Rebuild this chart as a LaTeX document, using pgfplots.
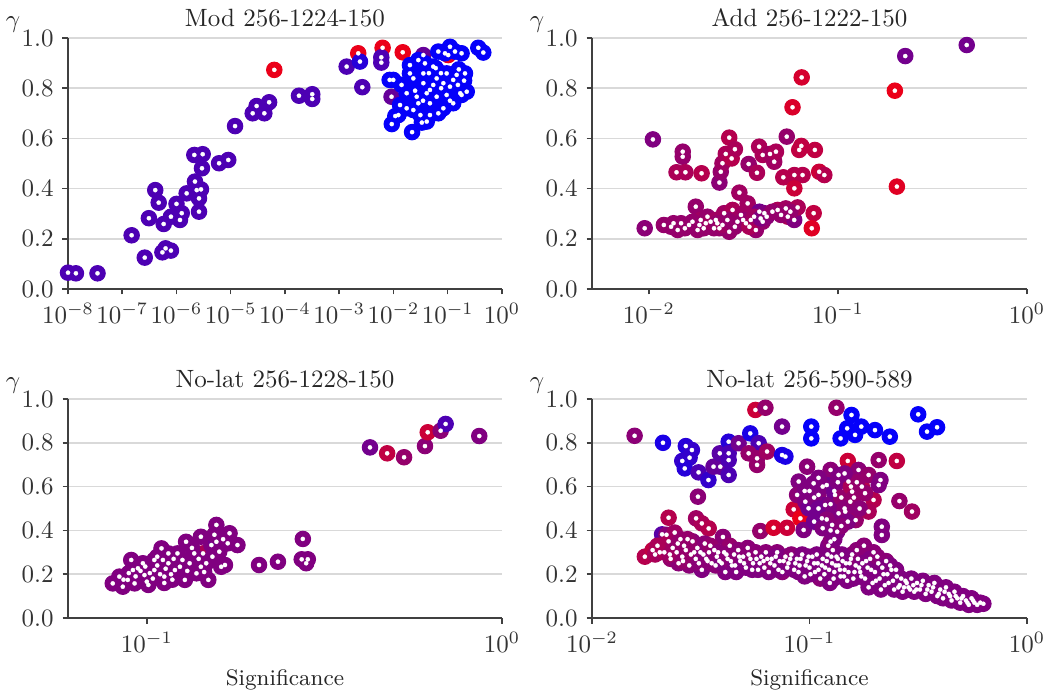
\documentclass[border=0pt]{standalone}
\usepackage{pgfplots}
\usepackage{pgfplotstable}
\pgfplotsset{compat=1.18}
\pgfplotstableread{
x y c
1.0e-8 0.065 0.3
1.4e-8 0.0625 0.3
3.5e-8 0.0625 0.3
1.49e-7 0.214 0.3
2.6e-7 0.125 0.3
3.1e-7 0.282 0.3
4.06e-7 0.394 0.3
4.7e-7 0.344 0.3
5.8e-7 0.259 0.3
5.5e-7 0.146 0.3
6.3e-7 0.162 0.3
7.9e-7 0.153 0.3
7.9e-7 0.288 0.3
1.0e-6 0.339 0.3
1.16e-6 0.275 0.3
1.25e-6 0.302 0.3
1.54e-6 0.381 0.3
2.13e-6 0.534 0.3
2.19e-6 0.428 0.3
2.36e-6 0.394 0.3
2.6e-6 0.361 0.3
2.6e-6 0.308 0.3
2.83e-6 0.397 0.3
3.04e-6 0.537 0.3
2.95e-6 0.481 0.3
6.1e-6 0.501 0.3
9.0e-6 0.514 0.3
1.2e-5 0.649 0.3
2.54e-5 0.700 0.3
3.0e-5 0.729 0.3
4.16e-5 0.700 0.3
5.1e-5 0.744 0.3
6.35e-5 0.873 1
1.81e-4 0.770 0.3
3.18e-4 0.776 0.3
3.18e-4 0.757 0.3
1.37e-3 0.886 0.3
2.24e-3 0.939 1
2.41e-3 0.906 0.15
2.66e-3 0.804 0.3
6.3e-3 0.961 1
5.96e-3 0.923 0.3
5.96e-3 0.902 0.3
1.48e-2 0.943 1
0.102 0.932 1
9.2e-3 0.766 0.4
0.0355 0.932 0.4
0.067 0.946 0.02
0.11 0.965 0.02
0.136 0.946 0.02
0.366 0.961 0.02
0.452 0.942 0.02
0.0093 0.657 0.02
0.022 0.625 0.02
0.0123 0.693 0.02
0.0099 0.833 0.02
0.0085 0.833 0.02
0.0201 0.892 0.02
0.0287 0.912 0.02
0.038 0.899 0.02
0.054 0.886 0.02
0.089 0.939 0.02
0.18 0.939 0.02
0.0141 0.813 0.02
0.0232 0.839 0.02
0.0355 0.859 0.02
0.0625 0.839 0.02
0.0955 0.859 0.02
0.146 0.853 0.02
0.208 0.859 0.02
0.224 0.786 0.02
0.18 0.773 0.02
0.126 0.74 0.02
0.083 0.72 0.02
0.047 0.693 0.02
0.041 0.667 0.02
0.0175 0.72 0.02
0.0132 0.733 0.02
0.0175 0.78 0.02
0.0268 0.766 0.02
0.041 0.78 0.02
0.0625 0.766 0.02
0.0955 0.773 0.02
0.0232 0.713 0.02
0.0313 0.693 0.02
0.0355 0.82 0.02
0.054 0.813 0.02
0.0755 0.80 0.02
0.11 0.806 0.02
0.154 0.813 0.02
0.0201 0.859 0.02
0.083 0.82 0.02
0.0287 0.74 0.02
0.047 0.74 0.02
0.126 0.833 0.02
0.047 0.793 0.02
0.0108 0.689 0.02
0.0333 0.663 0.02
0.067 0.70 0.02
0.17 0.78 0.02
0.06 0.88 0.02
0.16 0.875 0.02
0.075 0.86 0.02
0.025 0.79 0.02
0.035 0.75 0.02
0.11 0.75 0.02
0.045 0.86 0.02
0.20 0.83 0.02
}\tl
\pgfplotstableread{
x y c
0.0095 0.242 0.55
0.012 0.255 0.6
0.0131 0.248 0.6
0.0142 0.235 0.6
0.0148 0.262 0.6
0.0163 0.255 0.6
0.0177 0.328 0.6
0.0181 0.235 0.6
0.0188 0.275 0.65
0.02 0.262 0.65
0.0204 0.288 0.6
0.0221 0.242 0.6
0.0226 0.275 0.65
0.0236 0.242 0.6
0.025 0.302 0.65
0.0266 0.228 0.6
0.0277 0.315 0.7
0.0294 0.268 0.65
0.0301 0.384 0.65
0.0307 0.295 0.65
0.0326 0.262 0.8
0.0333 0.341 0.65
0.0346 0.275 0.65
0.0368 0.235 0.6
0.0384 0.308 0.45
0.0408 0.302 0.5
0.04 0.268 0.6
0.048 0.315 0.7
0.053 0.321 0.65
0.0543 0.288 0.7
0.0587 0.275 0.5
0.0612 0.325 0.7
0.0744 0.302 0.8
0.0727 0.242 0.95
0.0135 0.262 0.6
0.0155 0.242 0.6
0.0170 0.268 0.6
0.0185 0.255 0.6
0.0195 0.242 0.6
0.0212 0.268 0.65
0.0230 0.262 0.6
0.0245 0.255 0.65
0.0260 0.275 0.6
0.0285 0.248 0.6
0.0315 0.275 0.6
0.0340 0.248 0.7
0.0360 0.288 0.65
0.0390 0.281 0.5
0.0420 0.288 0.55
0.0450 0.308 0.6
0.0500 0.295 0.6
0.0560 0.308 0.6
0.0105 0.596 0.5
0.0266 0.603 0.75
0.0536 0.607 0.6
0.0151 0.547 0.6
0.0151 0.527 0.6
0.014 0.465 0.7
0.0156 0.465 0.7
0.019 0.461 0.75
0.0236 0.424 0.55
0.024 0.467 0.6
0.0245 0.501 0.65
0.0255 0.538 0.7
0.0274 0.52 0.75
0.0285 0.557 0.7
0.0337 0.498 0.6
0.0373 0.463 0.7
0.0383 0.567 0.7
0.04 0.534 0.7
0.0437 0.538 0.65
0.046 0.507 0.65
0.047 0.547 0.7
0.0514 0.445 0.75
0.0588 0.454 0.75
0.065 0.454 0.75
0.0588 0.401 0.85
0.0624 0.554 0.8
0.064 0.57 0.8
0.0755 0.554 0.8
0.0796 0.467 0.85
0.0847 0.454 0.75
0.0643 0.843 0.9
0.0575 0.724 0.92
0.2 0.79 1
0.205 0.408 0.95
0.227 0.928 0.45
0.48 0.972 0.45
}\tr
\pgfplotstableread{
x y c
0.0802 0.158 0.5
0.0837 0.189 0.5
0.0856 0.143 0.5
0.0904 0.265 0.5
0.0914 0.219 0.5
0.0924 0.158 0.5
0.0944 0.227 0.5
0.0884 0.174 0.5
0.0975 0.25 0.5
0.0985 0.196 0.5
0.100 0.166 0.5
0.101 0.151 0.5
0.105 0.219 0.5
0.105 0.265 0.5
0.107 0.28 0.5
0.110 0.318 0.5
0.112 0.189 0.5
0.115 0.25 0.5
0.115 0.295 0.5
0.120 0.219 0.5
0.122 0.295 0.5
0.124 0.234 0.5
0.128 0.174 0.5
0.129 0.348 0.5
0.132 0.25 0.5
0.136 0.295 0.5
0.138 0.204 0.5
0.142 0.371 0.5
0.142 0.234 0.5
0.144 0.295 0.7
0.147 0.25 0.5
0.149 0.174 0.5
0.152 0.333 0.5
0.157 0.425 0.5
0.157 0.348 0.45
0.160 0.303 0.5
0.162 0.234 0.5
0.166 0.242 0.5
0.169 0.341 0.5
0.171 0.387 0.5
0.180 0.333 0.5
0.0860 0.175 0.5
0.0890 0.205 0.5
0.0930 0.190 0.5
0.0960 0.215 0.5
0.0990 0.235 0.5
0.1020 0.205 0.5
0.1040 0.180 0.5
0.1070 0.240 0.5
0.1090 0.200 0.5
0.1110 0.265 0.5
0.1130 0.225 0.5
0.1170 0.200 0.5
0.1190 0.270 0.5
0.1260 0.265 0.5
0.1300 0.215 0.5
0.1340 0.320 0.5
0.1400 0.270 0.5
0.1450 0.210 0.5
0.1530 0.280 0.5
0.1550 0.380 0.5
0.1640 0.360 0.5
0.1120 0.160 0.5
0.1180 0.175 0.5
0.207 0.242 0.5
0.234 0.257 0.5
0.275 0.361 0.5
0.273 0.268 0.5
0.284 0.268 0.5
0.281 0.25 0.5
0.425 0.779 0.45
0.475 0.752 0.8
0.53 0.734 0.6
0.607 0.785 0.55
0.618 0.848 0.85
0.672 0.855 0.55
0.694 0.886 0.3
0.863 0.831 0.5
}\bl
\pgfplotstableread{
x y c
0.0157 0.832 0.55
0.0212 0.80 0.1
0.027 0.785 0.15
0.0288 0.767 0.2
0.026 0.717 0.2
0.0281 0.732 0.2
0.0267 0.683 0.15
0.0309 0.665 0.3
0.0343 0.630 0.2
0.0307 0.554 0.55
0.0362 0.691 0.4
0.0389 0.691 0.4
0.0387 0.752 0.35
0.0425 0.805 0.15
0.0425 0.752 0.3
0.0425 0.721 0.3
0.0425 0.653 0.3
0.0472 0.798 0.45
0.0534 0.843 0.1
0.0584 0.798 0.3
0.0525 0.752 0.6
0.0574 0.729 0.6
0.0574 0.699 0.6
0.0638 0.760 0.65
0.0564 0.950 0.85
0.0627 0.960 0.6
0.0748 0.874 0.45
0.0748 0.744 0.1
0.0775 0.737 0.1
0.1019 0.874 0.02
0.1019 0.820 0.02
0.133 0.960 0.6
0.156 0.927 0.02
0.149 0.866 0.02
0.139 0.820 0.02
0.162 0.836 0.02
0.173 0.874 0.02
0.2 0.858 0.02
0.234 0.828 0.02
0.316 0.93 0.02
0.347 0.851 0.02
0.386 0.871 0.02
0.150 0.717 0.85
0.208 0.721 0.6
0.252 0.717 0.8
0.259 0.534 0.6
0.296 0.486 0.65
0.0225 0.458 0.75
0.021 0.382 0.35
0.0301 0.455 0.65
0.032 0.432 0.7
0.0344 0.409 0.75
0.0594 0.397 0.6
0.0684 0.412 0.9
0.0788 0.412 0.85
0.0175 0.28 0.75
0.0190 0.31 0.8
0.0195 0.29 0.7
0.0205 0.30 0.65
0.0215 0.30 0.7
0.0220 0.38 0.55
0.0225 0.35 0.7
0.0230 0.27 0.6
0.0235 0.32 0.65
0.0240 0.39 0.65
0.0245 0.30 0.6
0.0250 0.25 0.55
0.0255 0.36 0.6
0.0260 0.28 0.6
0.0265 0.33 0.55
0.0270 0.31 0.6
0.0280 0.24 0.55
0.0285 0.29 0.6
0.0290 0.35 0.55
0.0300 0.27 0.6
0.0305 0.32 0.6
0.0315 0.30 0.55
0.0320 0.22 0.5
0.0330 0.34 0.55
0.0335 0.27 0.6
0.0345 0.30 0.55
0.0355 0.25 0.55
0.0365 0.31 0.6
0.0375 0.28 0.55
0.0385 0.26 0.5
0.0400 0.37 0.55
0.0405 0.30 0.55
0.0410 0.21 0.5
0.0420 0.27 0.55
0.0430 0.33 0.6
0.0440 0.24 0.5
0.0450 0.29 0.55
0.0460 0.21 0.5
0.0470 0.31 0.55
0.0480 0.26 0.5
0.0495 0.28 0.55
0.0510 0.23 0.5
0.0520 0.32 0.55
0.0535 0.27 0.5
0.0550 0.25 0.55
0.0565 0.30 0.55
0.0580 0.22 0.5
0.0600 0.28 0.55
0.0615 0.26 0.5
0.0630 0.30 0.55
0.0650 0.21 0.5
0.0670 0.27 0.55
0.0690 0.24 0.5
0.0710 0.30 0.55
0.0730 0.26 0.5
0.0750 0.21 0.55
0.0775 0.28 0.5
0.0800 0.25 0.5
0.0825 0.29 0.55
0.0850 0.22 0.5
0.0875 0.27 0.5
0.0900 0.24 0.55
0.0925 0.29 0.5
0.0950 0.19 0.5
0.0975 0.26 0.5
0.1000 0.23 0.5
0.1030 0.28 0.55
0.1060 0.21 0.5
0.1090 0.25 0.5
0.1120 0.18 0.55
0.1150 0.27 0.5
0.1180 0.23 0.5
0.1210 0.29 0.5
0.1240 0.16 0.5
0.1270 0.25 0.5
0.1300 0.21 0.5
0.1330 0.28 0.55
0.1360 0.24 0.5
0.1390 0.19 0.5
0.1420 0.26 0.5
0.1450 0.22 0.55
0.1490 0.17 0.5
0.1530 0.25 0.5
0.1570 0.29 0.55
0.1610 0.21 0.5
0.1650 0.31 0.55
0.1690 0.23 0.5
0.1730 0.19 0.5
0.1780 0.33 0.55
0.1820 0.26 0.5
0.1870 0.14 0.5
0.1920 0.22 0.5
0.1970 0.30 0.55
0.2020 0.17 0.5
0.2070 0.25 0.5
0.2130 0.13 0.5
0.2190 0.20 0.5
0.2250 0.26 0.55
0.2310 0.16 0.5
0.2380 0.22 0.5
0.2450 0.13 0.5
0.2520 0.19 0.5
0.2600 0.15 0.5
0.2680 0.12 0.5
0.2760 0.17 0.5
0.2850 0.14 0.5
0.2940 0.18 0.5
0.3030 0.12 0.5
0.3120 0.16 0.5
0.3220 0.13 0.5
0.3320 0.17 0.5
0.3420 0.11 0.5
0.3530 0.15 0.5
0.3640 0.12 0.5
0.3750 0.16 0.5
0.3870 0.10 0.5
0.3990 0.13 0.5
0.4110 0.09 0.5
0.4240 0.14 0.5
0.4370 0.11 0.5
0.4500 0.08 0.5
0.4640 0.12 0.5
0.4780 0.09 0.5
0.4930 0.07 0.5
0.5080 0.10 0.5
0.5240 0.08 0.5
0.5400 0.06 0.5
0.5560 0.09 0.5
0.5730 0.07 0.5
0.5900 0.06 0.5
0.6300 0.065 0.5
0.0200 0.33 0.7
0.0228 0.29 0.65
0.0248 0.34 0.6
0.0262 0.26 0.6
0.0275 0.36 0.6
0.0295 0.30 0.6
0.0310 0.25 0.55
0.0325 0.29 0.55
0.0340 0.26 0.55
0.0350 0.33 0.6
0.0370 0.24 0.55
0.0380 0.30 0.55
0.0395 0.25 0.5
0.0415 0.29 0.55
0.0435 0.26 0.55
0.0455 0.24 0.5
0.0475 0.28 0.55
0.0500 0.25 0.5
0.0525 0.29 0.55
0.0545 0.22 0.5
0.0570 0.27 0.55
0.0590 0.25 0.5
0.0620 0.23 0.5
0.0640 0.27 0.5
0.0660 0.25 0.55
0.0700 0.28 0.5
0.0720 0.22 0.5
0.0760 0.26 0.5
0.0790 0.23 0.5
0.0815 0.27 0.55
0.0860 0.25 0.5
0.0890 0.21 0.5
0.0910 0.27 0.5
0.0960 0.24 0.5
0.0990 0.28 0.5
0.1010 0.20 0.5
0.1050 0.25 0.5
0.1080 0.29 0.5
0.1100 0.22 0.5
0.1140 0.24 0.5
0.1170 0.20 0.5
0.1200 0.26 0.5
0.1230 0.22 0.5
0.1260 0.28 0.5
0.1290 0.18 0.5
0.1320 0.24 0.5
0.1350 0.27 0.5
0.1380 0.22 0.5
0.1410 0.29 0.5
0.1440 0.19 0.5
0.1470 0.25 0.5
0.1510 0.21 0.5
0.1550 0.27 0.5
0.1590 0.18 0.5
0.1630 0.24 0.5
0.1670 0.27 0.55
0.1710 0.21 0.5
0.1750 0.25 0.5
0.1800 0.18 0.5
0.1850 0.23 0.5
0.1900 0.27 0.5
0.1950 0.16 0.5
0.2000 0.21 0.5
0.2050 0.28 0.55
0.2100 0.18 0.5
0.2160 0.23 0.5
0.2220 0.15 0.5
0.2280 0.20 0.5
0.2350 0.24 0.5
0.2420 0.17 0.5
0.2500 0.22 0.5
0.2560 0.14 0.5
0.2640 0.18 0.5
0.2720 0.14 0.5
0.2800 0.16 0.5
0.2900 0.13 0.5
0.3000 0.15 0.5
0.3100 0.13 0.5
0.3270 0.15 0.5
0.3480 0.13 0.5
0.3700 0.14 0.5
0.3930 0.11 0.5
0.4180 0.12 0.5
0.4430 0.10 0.5
0.4700 0.10 0.5
0.5000 0.09 0.5
0.5320 0.07 0.5
0.5650 0.08 0.5
0.6100 0.07 0.5
0.1220 0.33 0.5
0.1280 0.31 0.5
0.0846 0.496 0.85
0.0908 0.455 1
0.0975 0.691 0.55
0.0892 0.623 0.5
0.0877 0.562 0.55
0.0957 0.531 0.5
0.099 0.501 0.45
0.094 0.402 0.5
0.1045 0.615 0.5
0.110 0.562 0.55
0.114 0.455 0.5
0.118 0.516 0.45
0.125 0.676 0.55
0.12 0.607 0.45
0.131 0.562 0.4
0.136 0.653 0.5
0.136 0.478 0.5
0.127 0.425 0.5
0.134 0.394 0.5
0.125 0.349 0.55
0.151 0.623 0.45
0.157 0.577 0.85
0.154 0.531 0.6
0.146 0.486 0.5
0.163 0.447 0.6
0.168 0.676 0.55
0.174 0.6 0.75
0.187 0.653 0.6
0.197 0.539 0.75
0.187 0.486 0.7
0.212 0.630 0.5
0.208 0.607 0.5
0.215 0.417 0.5
0.215 0.379 0.5
0.100 0.58 0.5
0.105 0.55 0.5
0.110 0.50 0.45
0.115 0.60 0.5
0.120 0.45 0.55
0.125 0.52 0.5
0.130 0.58 0.45
0.135 0.62 0.5
0.140 0.55 0.6
0.145 0.50 0.55
0.150 0.44 0.5
0.155 0.60 0.7
0.160 0.55 0.6
0.165 0.62 0.6
0.125 0.40 0.5
0.130 0.36 0.5
0.140 0.42 0.55
0.170 0.50 0.55
0.110 0.64 0.5
0.095 0.58 0.5
0.105 0.44 0.45
0.180 0.57 0.6
0.145 0.66 0.5
0.115 0.41 0.5
}\br
\pgfplotsset{colormap={bluered}{rgb255(0cm)=(0,0,255) rgb255(1cm)=(128,0,128) rgb255(2cm)=(235,0,25)}}
\pgfplotsset{every axis/.append style={
    scale only axis, ymin=0, ymax=1,
    axis x line=bottom, axis y line=left,
    axis line style={-, draw=black!75, line width=0.7pt},
    tick align=outside, major tick length=2.2pt,
    tick style={black!75, line width=0.6pt},
    ymajorgrids, grid style={black!15, line width=0.6pt},
    ytick={0,0.2,0.4,0.6,0.8,1},
    yticklabel style={/pgf/number format/fixed, /pgf/number format/fixed zerofill, /pgf/number format/precision=1},
    tick label style={text=black!80},
    title style={text=black!85, yshift=-5.2pt},
    point meta min=0, point meta max=1,
    ylabel={$\gamma$},
    ylabel style={at={(rel axis cs:0,1)}, rotate=-90, xshift=-22pt, yshift=5.5pt, anchor=center, text=black!85},
}}
\begin{document}
\begin{tikzpicture}
\useasboundingbox (-27.2pt,-28.4pt) rectangle (392.4pt,247.2pt);
\begin{semilogxaxis}[at={(0pt,131.6pt)}, anchor=south west, width=173.6pt, height=100.4pt,
  xminorticks=false,
  xmin=1e-8, xmax=1, xtick={1e-8,1e-7,1e-6,1e-5,1e-4,1e-3,1e-2,1e-1,1},
  title={Mod 256-1224-150}]
\addplot[scatter, only marks, mark=*, mark size=3.1pt, scatter src=explicit, scatter/use mapped color={draw=mapped color, fill=mapped color}] table[x=x,y=y,meta=c]{\tl};
\addplot[only marks, mark=*, mark size=0.85pt, mark options={draw=white, fill=white, line width=0.1pt}] table[x=x,y=y]{\tl};
\end{semilogxaxis}
\begin{semilogxaxis}[at={(209.6pt,131.6pt)}, anchor=south west, width=174pt, height=100.4pt,
  xminorticks=false,
  xmin=0.005, xmax=1, xtick={0.01,0.1,1},
  title={Add 256-1222-150}]
\addplot[scatter, only marks, mark=*, mark size=3.1pt, scatter src=explicit, scatter/use mapped color={draw=mapped color, fill=mapped color}] table[x=x,y=y,meta=c]{\tr};
\addplot[only marks, mark=*, mark size=0.85pt, mark options={draw=white, fill=white, line width=0.1pt}] table[x=x,y=y]{\tr};
\end{semilogxaxis}
\begin{semilogxaxis}[at={(0pt,0pt)}, anchor=south west, width=173.6pt, height=87.6pt,
  xminorticks=false,
  xmin=0.06, xmax=1, xtick={0.1,1},
  title={No-lat 256-1228-150}, xlabel={Significance}, xlabel style={font=\small, text=black!85}]
\addplot[scatter, only marks, mark=*, mark size=3.1pt, scatter src=explicit, scatter/use mapped color={draw=mapped color, fill=mapped color}] table[x=x,y=y,meta=c]{\bl};
\addplot[only marks, mark=*, mark size=0.85pt, mark options={draw=white, fill=white, line width=0.1pt}] table[x=x,y=y]{\bl};
\end{semilogxaxis}
\begin{semilogxaxis}[at={(209.6pt,0pt)}, anchor=south west, width=174pt, height=87.6pt,
  xminorticks=false,
  xmin=0.01, xmax=1, xtick={0.01,0.1,1},
  title={No-lat 256-590-589}, xlabel={Significance}, xlabel style={font=\small, text=black!85}]
\addplot[scatter, only marks, mark=*, mark size=3.1pt, scatter src=explicit, scatter/use mapped color={draw=mapped color, fill=mapped color}] table[x=x,y=y,meta=c]{\br};
\addplot[only marks, mark=*, mark size=0.85pt, mark options={draw=white, fill=white, line width=0.1pt}] table[x=x,y=y]{\br};
\end{semilogxaxis}
\end{tikzpicture}
\end{document}
